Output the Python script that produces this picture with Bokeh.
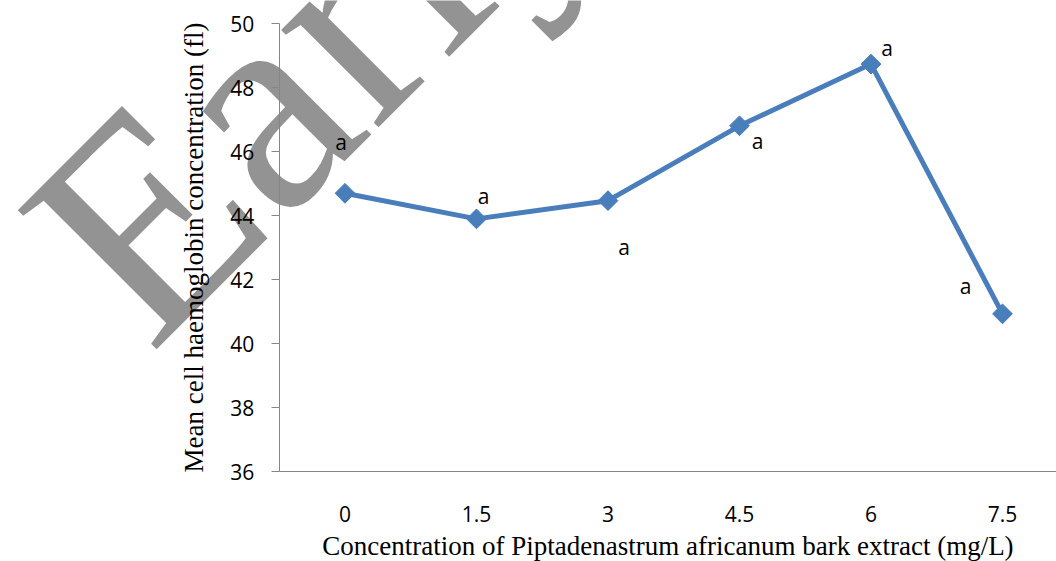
from bokeh.plotting import figure
from bokeh.models import Range1d, FixedTicker, Label, ColumnDataSource, LinearAxis
from bokeh.embed import file_html
from bokeh.resources import INLINE
import math

# ---- data ----
categories = ["0", "1.5", "3", "4.5", "6", "7.5"]
mchc_values = [44.70, 43.90, 44.47, 46.81, 48.74, 40.93]
sig_letters = ["a", "a", "a", "a", "a", "a"]
y_ticks = [36, 38, 40, 42, 44, 46, 48, 50]

# ---- label placement (screen px offsets, style only) ----
label_dx = [-4, 7, 16, 18, 16, -37]
label_dy = [-49, -21, 48, 17, -14, -26]

x_idx = list(range(len(categories)))
TICK_FONT = "Open Sans"
SERIF = "Liberation Serif"
AXIS_GREY = "#868686"
BLUE = "#4a7ebb"

W, H = 1056, 561
# layout geometry (pixels): first category centre and y=50 position
PX_X, X0 = 131.5, 344.5
PX_Y, Y50 = 31.98, 23.3
x_start, x_end = -X0 / PX_X, (W - X0) / PX_X
y_end, y_start = 50 + Y50 / PX_Y, 50 - (H - Y50) / PX_Y

p = figure(frame_width=W, frame_height=H, output_backend="svg", toolbar_location=None,
           x_range=Range1d(x_start, x_end), y_range=Range1d(y_start, y_end),
           x_axis_location=None, y_axis_location=None,
           min_border=0, min_border_left=0, min_border_right=0,
           min_border_top=0, min_border_bottom=0)
p.outline_line_color = None
p.xgrid.visible = False
p.ygrid.visible = False
p.background_fill_color = "white"
p.border_fill_color = "white"

# watermark (page decoration), anchor given in page pixels
WM_ANCHOR = (78.6, 283.4)
wm = Label(x=(WM_ANCHOR[0] - X0) / PX_X, y=50 - (WM_ANCHOR[1] - Y50) / PX_Y,
           x_units="data", y_units="data", text="Early",
           angle=math.pi / 4, text_font=SERIF, text_font_size="300px",
           text_color="#939393", text_align="left", text_baseline="alphabetic",
           level="underlay")
p.add_layout(wm)

src = ColumnDataSource(dict(x=x_idx, y=mchc_values, t=sig_letters,
                            dx=label_dx, dy=[d - 2 for d in label_dy]))

p.line("x", "y", source=src, line_color=BLUE, line_width=5)
p.scatter("x", "y", source=src, marker="square", angle=math.pi / 4, size=14,
          fill_color=BLUE, line_color=BLUE)
p.text("x", "y", text="t", source=src, x_offset="dx", y_offset="dy",
       text_font={"value": TICK_FONT}, text_font_size="21px", text_color="black",
       text_align="center", text_baseline="alphabetic")

# y axis
ya = LinearAxis(fixed_location=-0.5, bounds=(36, 50))
ya.ticker = FixedTicker(ticks=y_ticks)
ya.axis_line_color = AXIS_GREY
ya.major_tick_line_color = AXIS_GREY
ya.major_tick_out = 8
ya.major_tick_in = 0
ya.minor_tick_out = 0
ya.minor_tick_in = 0
ya.major_label_text_font = TICK_FONT
ya.major_label_text_font_size = "21px"
ya.major_label_text_color = "black"
ya.major_label_standoff = 17
ya.axis_label = "Mean cell haemoglobin concentration (fl)"
ya.axis_label_text_font = SERIF
ya.axis_label_text_font_size = "27px"
ya.axis_label_text_font_style = "normal"
ya.axis_label_text_color = "black"
ya.axis_label_standoff = 18
p.add_layout(ya, "left")

# x axis
xa = LinearAxis(fixed_location=36, bounds=(-0.5, x_end))
xa.ticker = FixedTicker(ticks=x_idx)
xa.major_label_overrides = {i: c for i, c in zip(x_idx, categories)}
xa.axis_line_color = AXIS_GREY
xa.major_tick_out = 0
xa.major_tick_in = 0
xa.minor_tick_out = 0
xa.minor_tick_in = 0
xa.major_label_text_font = TICK_FONT
xa.major_label_text_font_size = "21px"
xa.major_label_text_color = "black"
xa.major_label_standoff = 34
xa.axis_label = "Concentration of Piptadenastrum africanum bark extract (mg/L)"
xa.axis_label_text_font = SERIF
xa.axis_label_text_font_size = "27px"
xa.axis_label_text_font_style = "normal"
xa.axis_label_text_color = "black"
xa.axis_label_standoff = 6
p.add_layout(xa, "below")

open("out.html", "w").write(file_html(p, INLINE))
